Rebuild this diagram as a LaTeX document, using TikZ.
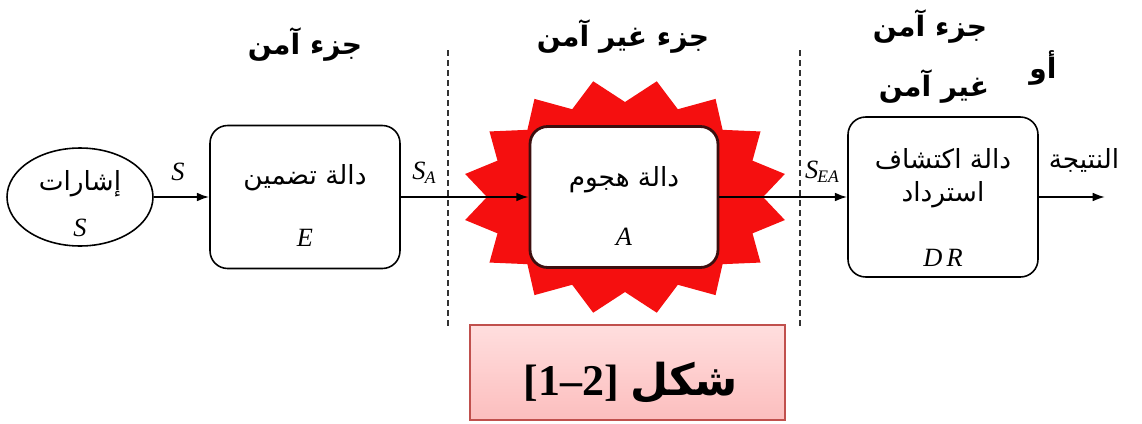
\documentclass[tikz,border=0pt]{standalone}
\usepackage{fontspec}
\setmainfont{Liberation Serif}
\newfontfamily\arabicfont[Script=Arabic]{DejaVu Sans}
\TeXXeTstate=1
\usetikzlibrary{arrows.meta,shapes.geometric}
\newcommand\artext[1]{{\arabicfont\beginR #1\endR}}
\definecolor{starred}{RGB}{245,15,15}
\definecolor{boxAedge}{RGB}{60,15,15}
\definecolor{capedge}{RGB}{192,80,77}
\definecolor{captop}{RGB}{255,222,222}
\definecolor{capbot}{RGB}{252,190,190}
\definecolor{dashgray}{RGB}{50,50,50}
\tikzset{
  blockbox/.style={draw, line width=0.9pt, rounded corners=10pt, fill=white, inner sep=0pt},
  arr/.style={-{Latex[length=7pt,width=5pt]}, line width=1.1pt},
  sep/.style={dashgray, line width=1.2pt, dash pattern=on 3.4pt off 2.3pt},
  head/.style={font=\fontsize{16}{19}\selectfont\bfseries, inner sep=0pt},
  boxtxt/.style={font=\fontsize{15}{18}\selectfont, inner sep=0pt},
  lat/.style={font=\fontsize{15}{17}\selectfont\itshape, inner sep=0pt}
}
\begin{document}
\begin{tikzpicture}[x=0.02cm,y=-0.02cm]
\useasboundingbox (0,0) rectangle (1142,423);
% separators
\coordinate (d1t) at (448,50); \coordinate (d1b) at (448,330);
\coordinate (d2t) at (800,50); \coordinate (d2b) at (800,330);
\draw[sep] (d1t) -- (d1b);
\draw[sep] (d2t) -- (d2b);
% star
\fill[starred] (625+138,197) \foreach \m in {0,...,15} {
  -- ({625+163*cos(\m*22.5+11.25)},{197-118*sin(\m*22.5+11.25)})
  -- ({625+138*cos(\m*22.5+22.5)},{197-95*sin(\m*22.5+22.5)}) } -- cycle;
% nodes
\node[draw, ellipse, line width=0.9pt, minimum width=2.92cm, minimum height=1.96cm, inner sep=0pt] (sig) at (80,197) {};
\node[boxtxt] (sigt) at (80,184) {\artext{إشارات}};
\node[lat] (sigs) at (80,228) {S};
\node[blockbox, minimum width=3.8cm, minimum height=2.86cm] (E) at (305,197) {};
\node[boxtxt] (Et) at (305,178) {\artext{دالة تضمين}};
\node[lat] (Ei) at (305,238) {E};
\node[blockbox, draw=boxAedge, line width=1.6pt, minimum width=3.76cm, minimum height=2.82cm] (A) at (624,197) {};
\node[boxtxt] (At) at (624,180) {\artext{دالة هجوم}};
\node[lat] (Ai) at (624,237) {A};
\node[blockbox, minimum width=3.8cm, minimum height=3.2cm] (DR) at (943,197) {};
\node[boxtxt, align=center] (DRt) at (943,178) {\artext{دالة اكتشاف}\\[1pt]\artext{استرداد}};
\node[lat] (DRi) at (943,258) {D\,R};
% connectors
\coordinate (out) at (1105,197);
\draw[arr] (sig.east) -- (E.west);
\draw[arr] (E.east) -- (A.west);
\draw[arr] (A.east) -- (DR.west);
\draw[arr] (DR.east) -- (out);
% connector labels
\node[lat] (lS) at (178,172) {S};
\node[lat] (lSA) at (424,173) {S\kern-0.5pt\raisebox{-0.35ex}{\fontsize{10}{11}\selectfont A}};
\node[lat] (lSEA) at (822,172) {S\kern-0.5pt\raisebox{-0.35ex}{\fontsize{10}{11}\selectfont EA}};
\node[boxtxt] (res) at (1084,160) {\artext{النتيجة}};
% headings
\node[head] (h1) at (305,45) {\artext{جزء آمن}};
\node[head] (h2) at (623,37) {\artext{جزء غير آمن}};
\node[head] (h3) at (930,27) {\artext{جزء آمن}};
\node[head] (h4) at (1043,68) {\artext{أو}};
\node[head] (h5) at (934,87) {\artext{غير آمن}};
% caption
\node[draw=capedge, line width=1.2pt, top color=captop, bottom color=capbot, minimum width=6.3cm, minimum height=1.9cm, inner sep=0pt] (cap) at (627.5,372.5) {};
\node[inner sep=0pt, font=\fontsize{25}{28}\selectfont\bfseries] (capt) at (631,383) {[1–2]~\artext{شكل}};
\end{tikzpicture}
\end{document}
